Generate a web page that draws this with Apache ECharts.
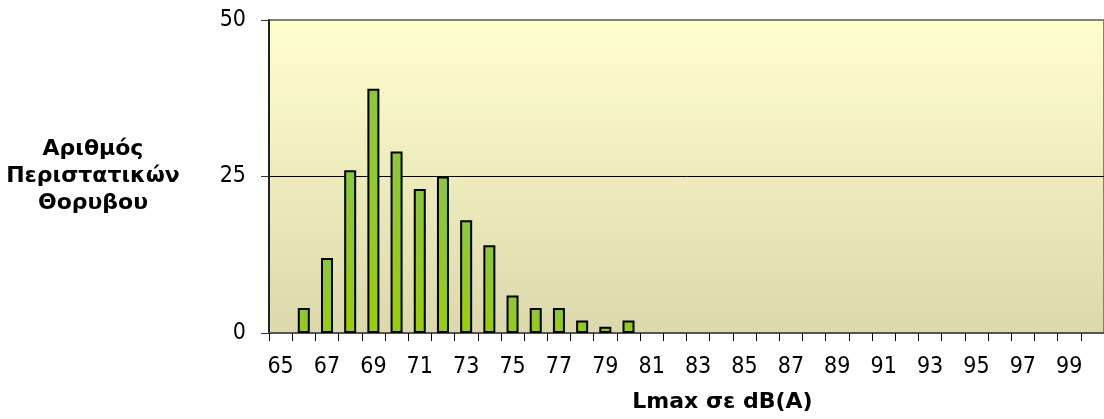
<!DOCTYPE html>
<html>
<head>
<meta charset="utf-8">
<script src="https://cdn.jsdelivr.net/npm/echarts@6/dist/echarts.min.js"></script>
<style>
  html, body { margin: 0; padding: 0; background: #fff; }
  #chart { width: 1104px; height: 419px; }
</style>
</head>
<body>
<div id="chart"></div>
<script>
// κατηγορίες Lmax (dB(A)) 65..100
const levels = ['65','66','67','68','69','70','71','72','73','74','75','76','77','78','79','80','81','82','83','84','85','86','87','88','89','90','91','92','93','94','95','96','97','98','99','100']
// αριθμός περιστατικών ανά κατηγορία
const counts = [0, 4, 12, 26, 39, 29, 23, 25, 18, 14, 6, 4, 4, 2, 1, 2, 0, 0, 0, 0, 0, 0, 0, 0, 0, 0, 0, 0, 0, 0, 0, 0, 0, 0, 0, 0]
const yTitle = 'Αριθμός\nΠεριστατικών\nΘορυβου'
const xTitle = 'Lmax σε dB(A)'

const labelFont = '"DejaVu Sans Condensed", "DejaVu Sans", sans-serif'
const titleFont = '"DejaVu Sans", sans-serif'

const chart = echarts.init(document.getElementById('chart'))
chart.setOption({
    animation: false,
    grid: {
        left: 269,
        top: 20,
        bottom: 86,
        right: -11,
        show: true,
        borderColor: '#808080',
        borderWidth: 2,
        backgroundColor: {
            type: 'linear', x: 0, y: 0, x2: 0, y2: 1,
            colorStops: [
                { offset: 0, color: '#FFFFCC' },
                { offset: 1, color: '#DCD8AC' },
            ],
        },
    },
    xAxis: {
        type: 'category',
        data: levels,
        boundaryGap: true,
        axisLine: { lineStyle: { color: '#555', width: 2 } },
        axisTick: { show: true, interval: 0, inside: false, length: 8, lineStyle: { color: '#000', width: 1 } },
        axisLabel: {
            interval: 1,
            margin: 23,
            color: '#000',
            fontSize: 23,
            fontFamily: labelFont,
        },
        name: xTitle,
        nameLocation: 'middle',
        nameGap: 58,
        nameTextStyle: {
            color: '#000',
            fontSize: 22,
            fontWeight: 'bold',
            fontFamily: titleFont,
            padding: [0, 0, 0, 72],
        },
    },
    yAxis: {
        type: 'value',
        min: 0,
        max: 50,
        interval: 25,
        axisLine: { show: true, lineStyle: { color: '#222', width: 2 } },
        axisTick: { show: true, length: 8, lineStyle: { color: '#333' } },
        axisLabel: {
            margin: 23,
            color: '#000',
            fontSize: 23,
            fontFamily: labelFont,
        },
        splitLine: { show: true, lineStyle: { color: ['#555', '#000', '#808080'], width: 1 } },
        name: yTitle,
        nameLocation: 'middle',
        nameRotate: 0,
        nameGap: 176,
        nameTextStyle: {
            color: '#000',
            fontSize: 22,
            fontWeight: 'bold',
            fontFamily: titleFont,
            align: 'center',
            verticalAlign: 'middle',
            lineHeight: 27,
            backgroundColor: 'rgba(255,255,255,0)',
            padding: [7, 0, 0, 0],
        },
    },
    series: [
        {
            type: 'bar',
            // κενές κατηγορίες δεν σχεδιάζονται
            data: counts.map((v) => (v === 0 ? '-' : v)),
            barWidth: 12,
            itemStyle: {
                borderColor: '#000',
                borderWidth: 2,
                color: {
                    type: 'linear', x: 0, y: 0, x2: 0, y2: 1,
                    colorStops: [
                        { offset: 0, color: '#8CC63E' },
                        { offset: 1, color: '#9ACD08' },
                    ],
                },
            },
        },
    ],
})
</script>
</body>
</html>
